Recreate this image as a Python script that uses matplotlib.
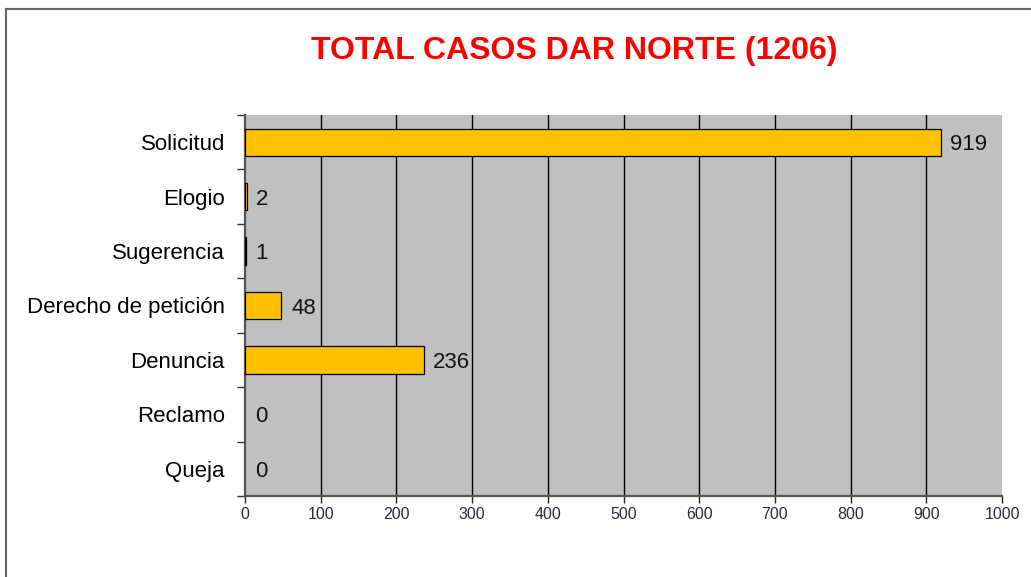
import matplotlib
matplotlib.use("Agg")
import matplotlib.pyplot as plt
from matplotlib.lines import Line2D
import numpy as np

plt.rcParams['font.family'] = ['Liberation Sans', 'DejaVu Sans']

categorias = ['Solicitud', 'Elogio', 'Sugerencia', 'Derecho de petición',
              'Denuncia', 'Reclamo', 'Queja']
casos = [919, 2, 1, 48, 236, 0, 0]
x_ticks = [0, 100, 200, 300, 400, 500, 600, 700, 800, 900, 1000]

fig = plt.figure(figsize=(10.31, 5.77), dpi=100)
ax = fig.add_axes([245/1031, 1 - 496/577, (1002 - 245)/1031, (496 - 115)/577])
ax.set_facecolor('#C0C0C0')

y = np.arange(len(categorias))
bars = ax.barh(y, casos, height=0.5, color='#FFC000', edgecolor='black',
               linewidth=0.9, zorder=3)

# etiquetas de valor
for b, v in zip(bars, casos):
    if v == 0:
        b.set_linewidth(0)
    ax.annotate(str(v), (b.get_width(), b.get_y() + b.get_height()/2),
                xytext=(7, 0), textcoords='offset points',
                va='center_baseline', ha='left', fontsize=16, color='#111111')

ax.set_xlim(0, 1000)
ax.set_ylim(len(categorias) - 0.5, -0.5)
ax.set_xticks(x_ticks)
ax.set_xticklabels([str(t) for t in x_ticks], fontsize=11.5, color='#2a2a40')
ax.set_yticks(y)
ax.set_yticklabels(categorias, fontsize=16)
ax.set_yticks(np.arange(len(categorias) + 1) - 0.5, minor=True)
ax.tick_params(axis='y', which='major', length=0, pad=14.5)
ax.tick_params(axis='y', which='minor', length=6, width=1, color='#333333', direction='out')
ax.tick_params(axis='x', length=5, width=1, color='#222222', pad=3)

for t in x_ticks[1:-1]:
    ax.axvline(t, color='black', linewidth=1, zorder=1)

for s in ['top', 'right']:
    ax.spines[s].set_visible(False)
for s in ['left', 'bottom']:
    ax.spines[s].set_color('#555555')
    ax.spines[s].set_linewidth(1.6)

fig.text(574/1031, 1 - 51/577, 'TOTAL CASOS DAR NORTE (1206)', color='#FF0000',
         fontsize=23, fontweight='bold', ha='center', va='center')

# marco
fig.add_artist(Line2D([6/1031, 1], [1 - 9/577, 1 - 9/577], color='#666666', linewidth=1.5))
fig.add_artist(Line2D([6/1031, 6/1031], [0, 1 - 9/577], color='#666666', linewidth=1.5))

fig.savefig('out.png', dpi=100)
